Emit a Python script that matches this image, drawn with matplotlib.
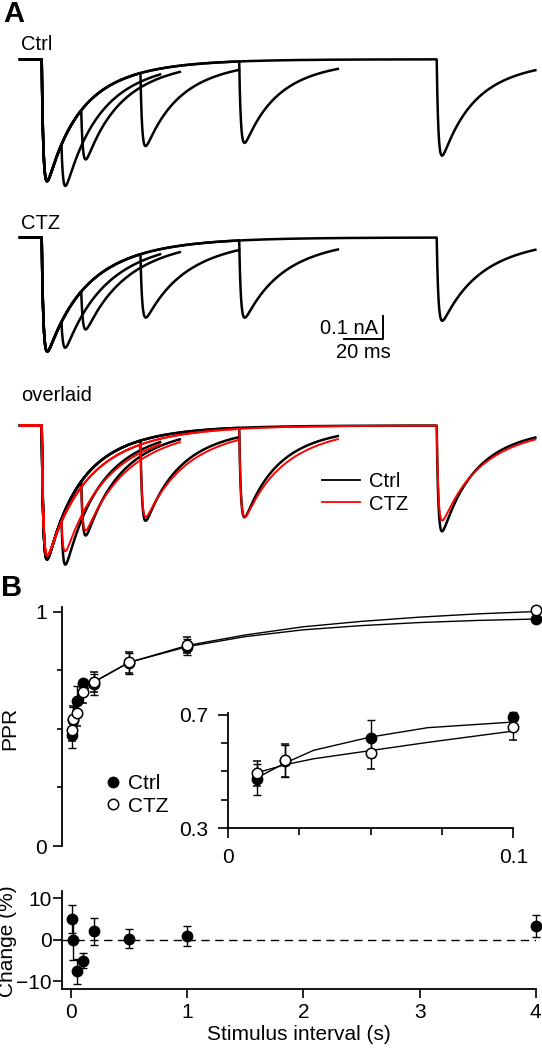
import numpy as np
import matplotlib
matplotlib.use("Agg")
import matplotlib.pyplot as plt
from matplotlib.lines import Line2D

plt.rcParams['font.family'] = ['Liberation Sans', 'DejaVu Sans']

W, H, DPI = 542, 1050, 100

# ── Panel A: example paired-pulse EPSC traces ──────────────────────────────
ISI_MS      = [10, 20, 50, 100, 200]           # stimulus intervals shown
PPR_CTRL_TR = [0.42, 0.45, 0.61, 0.67, 0.79]   # 2nd / 1st amplitude, Ctrl
PPR_CTZ_TR  = [0.30, 0.38, 0.57, 0.68, 0.73]   # 2nd / 1st amplitude, CTZ
AMP1_CTRL   = 0.508                            # nA, first EPSC (Ctrl panel)
AMP1_CTZ    = 0.475                            # nA, first EPSC (CTZ panel)
AMP1_OVL    = [0.558, 0.542]                   # Ctrl, CTZ in overlay (scaled)
TAU_RISE    = 0.9                              # ms
DECAY_CTRL  = (12.0, 28.0, 0.5)                # tau fast, tau slow, fast fraction
DECAY_CTZ   = (13.0, 30.0, 0.4)
PRE_MS, POST_MS = 11, 50                       # trace before stim1 / after stim2

# ── Panel B: paired-pulse ratio ───────────────────────────────────────────
INTERVAL_S   = [0.01, 0.02, 0.05, 0.1, 0.2, 0.5, 1, 4]
PPR_CTRL     = [0.472, 0.537, 0.617, 0.694, 0.690, 0.780, 0.848, 0.968]
PPR_CTRL_ERR = [0.055, 0.055, 0.065, 0.015, 0.045, 0.045, 0.035, 0.010]
PPR_CTZ      = [0.493, 0.540, 0.566, 0.657, 0.699, 0.783, 0.856, 1.005]
PPR_CTZ_ERR  = [0.045, 0.058, 0.056, 0.047, 0.044, 0.044, 0.035, 0.010]

FIT_X    = [0.01, 0.02, 0.03, 0.05, 0.07, 0.1, 0.2, 0.5, 1, 1.5, 2, 2.5, 3, 3.5, 4]
FIT_CTRL = [0.477, 0.530, 0.575, 0.622, 0.655, 0.675, 0.700, 0.783, 0.850,
            0.893, 0.922, 0.940, 0.953, 0.962, 0.968]
FIT_CTZ  = [0.495, 0.524, 0.545, 0.574, 0.603, 0.643, 0.700, 0.783, 0.855,
            0.900, 0.935, 0.958, 0.976, 0.990, 1.000]

CHANGE_PCT = [5.1, 0.0, -7.6, -5.1, 2.0, 0.3, 1.0, 3.3]
CHANGE_ERR = [3.4, 4.9, 3.0, 1.8, 3.2, 2.3, 2.4, 2.6]


def rect(left, top, right, bottom):
    """pixel box -> figure fraction rect"""
    return [left / W, 1 - bottom / H, (right - left) / W, (bottom - top) / H]


def fxy(x, y):
    return x / W, 1 - y / H


def epsc(t, decay):
    tf, ts, a = decay
    tt = np.clip(t, 0, None)
    shape = (1 - np.exp(-tt / TAU_RISE)) * (a * np.exp(-tt / tf) + (1 - a) * np.exp(-tt / ts))
    return np.where(t > 0, shape, 0.0)


def trace(isi, amp1, ppr, decay):
    t = np.arange(-PRE_MS, isi + POST_MS, 0.05)
    grid = np.arange(0, 20, 0.01)
    peak = epsc(grid, decay).max()
    y = -amp1 * (epsc(t, decay) + ppr * epsc(t - isi, decay)) / peak
    return t, y


fig = plt.figure(figsize=(W / DPI, H / DPI), dpi=DPI)

# ── Panel A ────────────────────────────────────────────────────────────────
PX_PER_MS, PX_PER_NA, STIM_X = 1.975, 240.0, 41.7
axA = fig.add_axes(rect(0, 0, W, 590))
axA.set_xlim(-STIM_X / PX_PER_MS, (W - STIM_X) / PX_PER_MS)
axA.set_ylim(-590 / PX_PER_NA, 0)
axA.axis('off')

base_ctrl, base_ctz, base_ovl = -59.3 / PX_PER_NA, -237.5 / PX_PER_NA, -425.5 / PX_PER_NA
TRACE_LW = 1.8

for isi, ppr in zip(ISI_MS, PPR_CTRL_TR):
    t, y = trace(isi, AMP1_CTRL, ppr, DECAY_CTRL)
    axA.plot(t, base_ctrl + y, color='black', lw=TRACE_LW)
for isi, ppr in zip(ISI_MS, PPR_CTZ_TR):
    t, y = trace(isi, AMP1_CTZ, ppr, DECAY_CTZ)
    axA.plot(t, base_ctz + y, color='black', lw=TRACE_LW)
for isi, p_ctrl, p_ctz in zip(ISI_MS, PPR_CTRL_TR, PPR_CTZ_TR):
    t, y = trace(isi, AMP1_OVL[0], p_ctrl, DECAY_CTRL)
    axA.plot(t, base_ovl + y, color='black', lw=TRACE_LW, zorder=2)
    t, y = trace(isi, AMP1_OVL[1], p_ctz, DECAY_CTZ)
    axA.plot(t, base_ovl + y, color='#ff0000', lw=1.4, zorder=3)

# scale bar: 0.1 nA / 20 ms
sb_x = (382.5 - STIM_X) / PX_PER_MS
sb_y = -339.5 / PX_PER_NA
axA.plot([sb_x - 20, sb_x, sb_x], [sb_y, sb_y, sb_y + 0.1], color='black', lw=1.4,
         solid_capstyle='butt')
axA.text(sb_x - 2.2, sb_y + 0.045, "0.1 nA", ha='right', va='center', fontsize=14.5)
axA.text(sb_x - 9.5, sb_y - 0.053, "20 ms", ha='center', va='center', fontsize=14.5)

fig.text(*fxy(3, 22), "A", fontsize=21, fontweight='bold', va='baseline')
fig.text(*fxy(21, 50), "Ctrl", fontsize=14.5, va='baseline')
fig.text(*fxy(21, 229), "CTZ", fontsize=14.5, va='baseline')
fig.text(*fxy(21, 401), "overlaid", fontsize=14.5, va='baseline')
fig.text(*fxy(1, 596), "B", fontsize=21, fontweight='bold', va='baseline')

axA.legend(handles=[Line2D([], [], color='black', lw=1.3, label='Ctrl'),
                    Line2D([], [], color='#ff0000', lw=1.3, label='CTZ')],
           loc='center left', bbox_to_anchor=fxy(321.5, 493),
           bbox_transform=fig.transFigure, frameon=False, fontsize=14.5,
           handlelength=1.9, handletextpad=0.45, labelspacing=0.15,
           borderpad=0, borderaxespad=0)


def style(ax, major_len, minor_len):
    for s in ['top', 'right']:
        ax.spines[s].set_visible(False)
    for s in ['left', 'bottom']:
        ax.spines[s].set_linewidth(1.3)
    ax.tick_params(which='major', direction='out', length=major_len, width=1.2,
                   labelsize=15, color='black')
    ax.tick_params(which='minor', direction='out', length=minor_len, width=1.2)


def points(ax, idx):
    xs = [INTERVAL_S[i] for i in idx]
    ax.errorbar(xs, [PPR_CTRL[i] for i in idx], yerr=[PPR_CTRL_ERR[i] for i in idx],
                fmt='o', ms=7.5, mfc='black', mec='black', ecolor='black',
                elinewidth=1, capsize=3, capthick=1, zorder=4, clip_on=False)
    ax.errorbar(xs, [PPR_CTZ[i] for i in idx], yerr=[PPR_CTZ_ERR[i] for i in idx],
                fmt='o', ms=7.5, mfc='white', mec='black', mew=1.1, ecolor='black',
                elinewidth=1, capsize=3, capthick=1, zorder=5, clip_on=False)


X_LEFT = -0.075

# ── Main PPR plot ─────────────────────────────────────────────────────────
axP = fig.add_axes(rect(62.2, 606.6, 535.8, 846.0))
axP.set_xlim(X_LEFT, 4.0)
axP.set_ylim(0, 1.021)
style(axP, 6.2, 3.6)
axP.spines['bottom'].set_visible(False)
axP.tick_params(axis='x', which='both', bottom=False, labelbottom=False)
axP.set_yticks([0, 1])
axP.set_yticklabels(["0", "1"])
axP.set_yticks([0.25, 0.5, 0.75], minor=True)
axP.tick_params(axis='y', pad=5)
axP.plot(FIT_X, FIT_CTRL, color='black', lw=1.0, zorder=3)
axP.plot(FIT_X, FIT_CTZ, color='black', lw=1.0, zorder=3)
points(axP, range(len(INTERVAL_S)))
fig.text(*fxy(10, 728), "PPR", rotation=90, ha='center', va='center', fontsize=15)

axP.legend(handles=[Line2D([], [], ls='none', marker='o', ms=7.5, mfc='black', mec='black', label='Ctrl'),
                    Line2D([], [], ls='none', marker='o', ms=7.5, mfc='white', mec='black', mew=1.1, label='CTZ')],
           loc='center left', bbox_to_anchor=fxy(104.5, 795),
           bbox_transform=fig.transFigure, frameon=False, fontsize=15,
           handlelength=0.8, handletextpad=0.35, labelspacing=0.15,
           borderpad=0, borderaxespad=0)

# ── Inset: short intervals ───────────────────────────────────────────────
axI = fig.add_axes(rect(228.1, 712.7, 513.3, 828.0))
axI.set_xlim(0, 0.1)
axI.set_ylim(0.3, 0.708)
style(axI, 7.2, 5.0)
axI.set_xticks([0, 0.1])
axI.set_xticklabels(["0", "0.1"])
axI.set_xticks([0.025, 0.05, 0.075], minor=True)
axI.set_yticks([0.3, 0.7])
axI.set_yticklabels(["0.3", "0.7"])
axI.set_yticks([0.4, 0.5, 0.6], minor=True)
axI.tick_params(axis='both', which='major', pad=7)
axI.patch.set_alpha(0)
axI.plot(FIT_X, FIT_CTRL, color='black', lw=1.0, zorder=3)
axI.plot(FIT_X, FIT_CTZ, color='black', lw=1.0, zorder=3)
points(axI, [i for i, x in enumerate(INTERVAL_S) if x <= 0.1])

# ── Change plot ───────────────────────────────────────────────────────────
axC = fig.add_axes(rect(62.2, 891.0, 535.8, 988.5))
axC.set_xlim(X_LEFT, 4.0)
axC.set_ylim(-11.8, 11.8)
style(axC, 6.5, 3.6)
axC.set_yticks([-10, 0, 10])
axC.set_xticks([0, 1, 2, 3, 4])
axC.tick_params(axis='y', pad=1)
axC.tick_params(axis='x', pad=4)
axC.axhline(0, color='black', lw=1.0, ls=(0, (6, 4)), zorder=1)
axC.errorbar(INTERVAL_S, CHANGE_PCT, yerr=CHANGE_ERR, fmt='o', ms=7.5,
             mfc='black', mec='black', ecolor='black', elinewidth=1,
             capsize=3, capthick=1, zorder=4, clip_on=False)
axC.set_xlabel("Stimulus interval (s)", fontsize=15, labelpad=2)
fig.text(*fxy(8, 941), "Change (%)", rotation=90, ha='center', va='center', fontsize=15)

fig.savefig("out.png", dpi=DPI)
